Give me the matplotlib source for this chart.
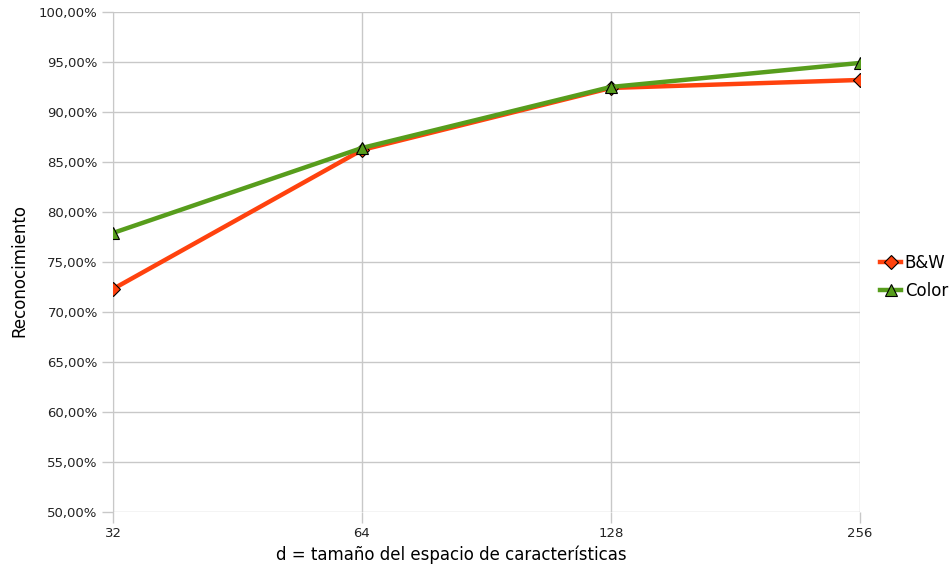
import matplotlib.pyplot as plt
import numpy as np

dims = ['32', '64', '128', '256']
bw = [72.3, 86.2, 92.4, 93.2]
color = [77.9, 86.4, 92.5, 94.9]

plt.rcParams['font.family'] = ['DejaVu Sans']

fig = plt.figure(figsize=(9.5, 5.75), dpi=100)
ax = fig.add_axes([0.119, 0.1096, 0.786, 0.8696])

x = np.arange(len(dims))
ax.plot(x, bw, '-', color='#ff420e', lw=3.2, marker='D', ms=7,
        mfc='#ff420e', mec='black', mew=0.8, label='B&W', zorder=3)
ax.plot(x, color, '-', color='#579d1c', lw=3.2, marker='^', ms=9,
        mfc='#579d1c', mec='black', mew=0.8, label='Color', zorder=4)

ax.set_xlim(0, len(dims) - 1)
ax.set_ylim(50, 100)
ax.set_xticks(x)
ax.set_xticklabels(dims)
yt = np.arange(50, 101, 5)
ax.set_yticks(yt)
ax.set_yticklabels(['{:.2f}%'.format(v).replace('.', ',') for v in yt])

ax.grid(True, color='#c8c8c8', lw=1)
ax.set_axisbelow(True)
for s in ['top', 'right', 'bottom']:
    ax.spines[s].set_visible(False)
ax.spines['left'].set_color('#c8c8c8')
ax.tick_params(axis='both', colors='#c8c8c8', length=8, width=1,
               labelcolor='#222222', labelsize=9.5, pad=3)

fig.text(0.475, 0.035, 'd = tamaño del espacio de características',
         fontsize=12, ha='center', va='center')
fig.text(0.02, 0.53, 'Reconocimiento', fontsize=12, rotation=90,
         ha='center', va='center')

ax.legend(loc='center left', bbox_to_anchor=(0.926, 0.518),
          bbox_transform=fig.transFigure, frameon=False,
          fontsize=12, handlelength=1.3, handletextpad=0.2, labelspacing=0.6,
          borderaxespad=0, borderpad=0)

fig.savefig('out.png', dpi=100, facecolor='white')
